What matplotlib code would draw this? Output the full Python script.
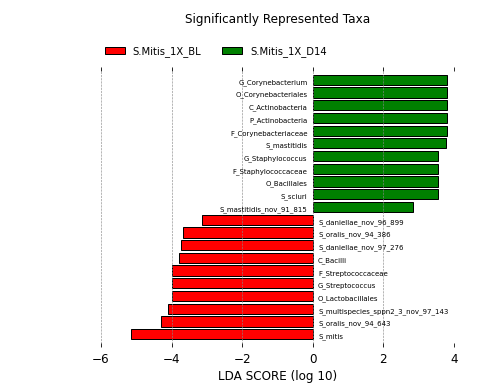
import matplotlib
matplotlib.use("Agg")
import matplotlib.pyplot as plt
from matplotlib.patches import Patch

# taxa from top of chart to bottom
taxa = ["G_Corynebacterium", "O_Corynebacteriales", "C_Actinobacteria",
        "P_Actinobacteria", "F_Corynebacteriaceae", "S_mastitidis",
        "G_Staphylococcus", "F_Staphylococcaceae", "O_Bacillales", "S_sciuri",
        "S_mastitidis_nov_91_815",
        "S_daniellae_nov_96_899", "S_oralis_nov_94_386", "S_daniellae_nov_97_276",
        "C_Bacilli", "F_Streptococcaceae", "G_Streptococcus", "O_Lactobacillales",
        "S_multispecies_sppn2_3_nov_97_143", "S_oralis_nov_94_643", "S_mitis"]
lda = [3.81, 3.81, 3.81, 3.81, 3.81, 3.76, 3.56, 3.56, 3.56, 3.56, 2.83,
       -3.13, -3.69, -3.72, -3.80, -4.00, -4.00, -4.00, -4.11, -4.31, -5.15]
classes = ["S.Mitis_1X_BL", "S.Mitis_1X_D14"]
colors = ["#ff0000", "#008000"]

n = len(taxa)
fig = plt.figure(figsize=(7, 392 / 72), dpi=72)
ax = fig.add_axes([0.2004, 0.115, 0.7004, 0.714], frameon=False)

for i in range(n):
    pos = n - 1 - i
    v = lda[i]
    col = colors[1] if v > 0 else colors[0]
    ax.barh(pos, v, height=0.8, align="center", color=col,
            edgecolor="black", linewidth=1)
    if v > 0:
        ax.text(-0.15, pos - 0.2, taxa[i], ha="right", va="center", fontsize=7)
    else:
        ax.text(0.15, pos - 0.2, taxa[i], ha="left", va="center", fontsize=7)

ax.set_xlim(-6, 4)
ax.set_ylim(-1, n)
ax.set_yticks([])
ax.set_xticks([-6, -4, -2, 0, 2, 4])
ax.set_xticklabels(["\u22126", "\u22124", "\u22122", "0", "2", "4"])
ax.tick_params(axis="x", direction="in", top=True, bottom=True, length=4,
               labelsize=12, pad=6)
ax.xaxis.grid(True, linestyle="--", color="#888888", linewidth=0.6)
ax.set_axisbelow(False)
ax.set_xlabel("LDA SCORE (log 10)", fontsize=12)

handles = [Patch(facecolor=colors[k], edgecolor="black", label=classes[k])
           for k in range(2)]
fig.legend(handles=handles, loc="upper left", bbox_to_anchor=(0.19, 0.905),
           ncol=2, frameon=False, fontsize=10, handlelength=2, handleheight=0.7,
           columnspacing=2.1)
fig.text(0.5506, 0.95, "Significantly Represented Taxa", fontsize=12,
         ha="center", va="center")

fig.savefig("out.png", dpi=72)
